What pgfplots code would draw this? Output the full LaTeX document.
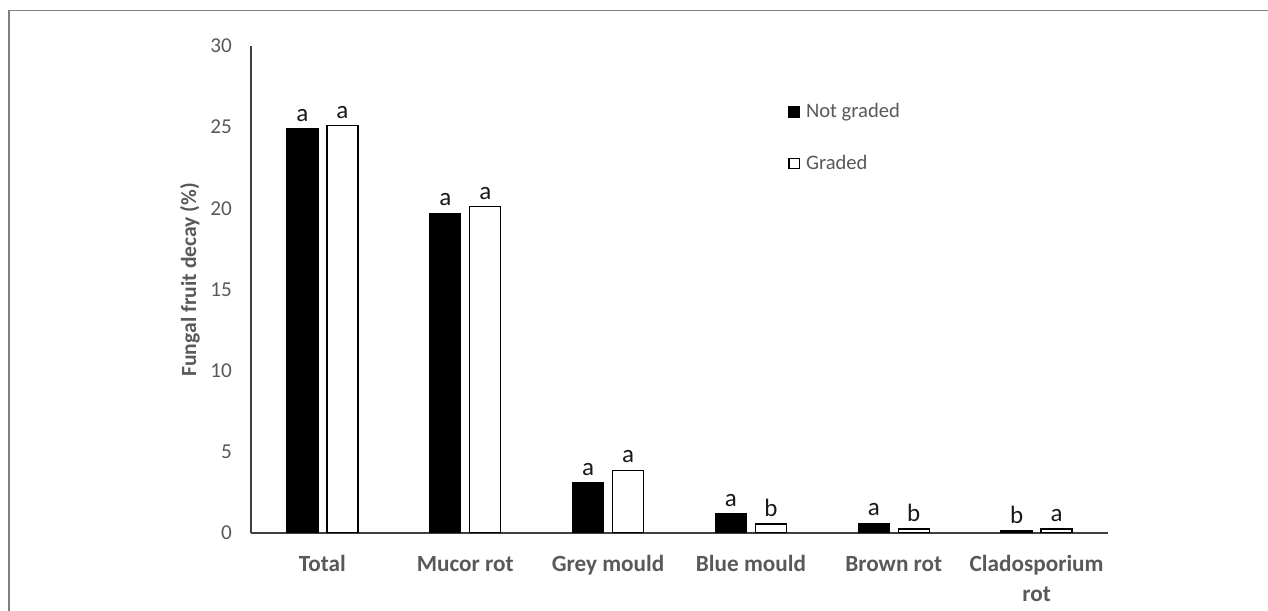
\documentclass[border=0pt]{standalone}
\usepackage{fontspec}
\setmainfont{Carlito}
\usepackage{pgfplots}
\usepackage{pgfplotstable}
\pgfplotsset{compat=1.18}
\definecolor{txtgray}{HTML}{595959}
\definecolor{framegray}{HTML}{7F7F7F}
\definecolor{axgray}{HTML}{404040}

\pgfplotstableread{
x y lab
0 24.9 a
1 19.7 a
2 3.08 a
3 1.19 a
4 0.6 a
5 0.15 b
}\notgraded
\pgfplotstableread{
x y lab
0 25.1 a
1 20.1 a
2 3.86 a
3 0.55 b
4 0.25 b
5 0.25 a
}\graded

\begin{document}
\begin{tikzpicture}
\path[use as bounding box] (0,0) rectangle (634pt,305pt);
\draw[framegray, line width=0.9pt] (4.5pt,-5pt) -- (4.5pt,299.75pt) -- (640pt,299.75pt);
\begin{axis}[
  at={(125.5pt,38.5pt)}, anchor=south west, scale only axis,
  width=428.5pt, height=243.5pt,
  xmin=-0.5, xmax=5.5, ymin=0, ymax=30,
  ybar=4.5pt, bar width=15.5pt,
  axis x line=bottom, axis y line=left,
  axis line style={-, draw=axgray, line width=0.8pt},
  major tick length=0pt,
  xtick={0,1,2,3,4,5},
  xticklabels={{\strut Total}, {\strut Mucor rot}, {\strut Grey mould}, {\strut Blue mould}, {\strut Brown rot}, {\strut Cladosporium\\\strut rot}},
  xticklabel style={font=\fontsize{11.6}{15}\selectfont\bfseries, text=txtgray, align=center, anchor=north, yshift=-5pt},
  ytick={0,5,...,30},
  yticklabel style={font=\fontsize{10.6}{12}\selectfont, text=txtgray, xshift=-6pt},
  /pgf/number format/assume math mode=true,
  ylabel={Fungal fruit decay (\%)},
  every axis y label/.style={at={(rel axis cs:0,0.52)}, xshift=-30.5pt, rotate=90, anchor=center,
    font=\fontsize{10.8}{12}\selectfont\bfseries, text=txtgray},
  nodes near coords,
  point meta=explicit symbolic,
  every node near coord/.append style={font=\fontsize{12.5}{12}\selectfont, text=black!90},
  legend style={at={(rel axis cs:0.6266,0.887)}, anchor=north west, draw=none, fill=none,
    inner sep=0pt, row sep=15pt, font=\fontsize{10.3}{12}\selectfont, text=txtgray,
    nodes={inner sep=1pt}, /tikz/every odd column/.append style={column sep=2pt}},
  legend cell align=left,
  legend image code/.code={\draw[#1, line width=0.6pt] (0pt,-2.6pt) rectangle (5.2pt,2.6pt);},
]
\addplot[fill=black, draw=black, line width=0.6pt] table[x=x, y=y, meta=lab] {\notgraded};
\addplot[fill=white, draw=black, line width=0.6pt] table[x=x, y=y, meta=lab] {\graded};
\legend{Not graded, Graded}
\end{axis}
\end{tikzpicture}
\end{document}
